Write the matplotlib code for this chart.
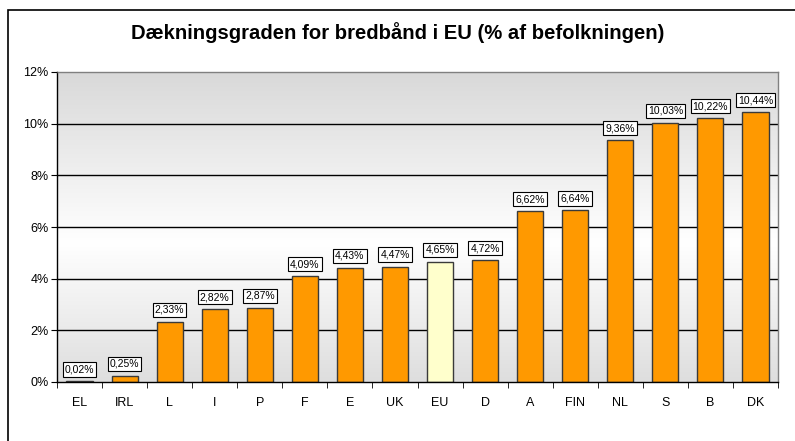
import matplotlib
matplotlib.use("Agg")
import matplotlib.pyplot as plt
import numpy as np
from matplotlib.patches import Rectangle

categories = ["EL", "IRL", "L", "I", "P", "F", "E", "UK", "EU", "D", "A", "FIN", "NL", "S", "B", "DK"]
values = [0.02, 0.25, 2.33, 2.82, 2.87, 4.09, 4.43, 4.47, 4.65, 4.72, 6.62, 6.64, 9.36, 10.03, 10.22, 10.44]
highlight = "EU"
yticks = [0, 2, 4, 6, 8, 10, 12]
title = "Dækningsgraden for bredbånd i EU (% af befolkningen)"

plt.rcParams['font.family'] = ['Liberation Sans', 'DejaVu Sans']

W, H = 795, 441
fig = plt.figure(figsize=(W / 100, H / 100), dpi=100)
fig.patch.set_facecolor("white")

# outer chart border (extends beyond image on right/bottom)
fig.patches.append(Rectangle((8 / W, -0.1), 1.2, 1 - 10 / H + 0.1, transform=fig.transFigure,
                             fill=False, edgecolor="black", linewidth=1.2))

left, right, top, bottom = 57, 778, 72, 382
ax = fig.add_axes([left / W, 1 - bottom / H, (right - left) / W, (bottom - top) / H])

n = len(categories)
x = np.arange(n)

# gradient background: gray top, white middle, gray bottom
grad_y = np.linspace(0, 1, 256)
vals = np.interp(grad_y, [0, 0.45, 1.0], [0.87, 1.0, 0.85])
img = np.stack([vals, vals, vals], axis=-1)[:, None, :].repeat(2, axis=1)
ax.imshow(img, extent=[-0.5, n - 0.5, 0, 12], origin="lower", aspect="auto", zorder=0)
ax.set_xlim(-0.5, n - 0.5)
ax.set_ylim(0, 12)

for yv in yticks[1:-1]:
    ax.axhline(yv, color="black", linewidth=1.0, zorder=1)

colors = ["#ffffcc" if c == highlight else "#ff9900" for c in categories]
ax.bar(x, values, width=0.58, color=colors, edgecolor="#3a3a3a", linewidth=1.0, zorder=2)

for xi, v in zip(x, values):
    ax.annotate(f"{v:.2f}%".replace(".", ","), (xi, v), xytext=(0, 5), textcoords="offset points",
                ha="center", va="bottom", fontsize=7.5,
                bbox=dict(boxstyle="square,pad=0.2", facecolor="white", edgecolor="black", linewidth=0.8),
                zorder=3)

ax.set_yticks(yticks)
ax.set_yticklabels([f"{t}%" for t in yticks], fontsize=9)
ax.set_xticks(x)
ax.set_xticklabels(categories, fontsize=9)
ax.tick_params(axis="x", length=0, pad=11)
ax.set_xticks(np.arange(-0.5, n, 1), minor=True)
ax.tick_params(axis="x", which="minor", length=4, direction="out", color="black")
ax.tick_params(axis="y", length=4, direction="out", color="black", pad=2)

for s in ["left", "bottom"]:
    ax.spines[s].set_color("black")
    ax.spines[s].set_linewidth(1.0)
for s in ["top", "right"]:
    ax.spines[s].set_color("#808080")
    ax.spines[s].set_linewidth(1.0)
ax.set_axisbelow(False)

fig.text(0.5, 1 - 33 / H, title, ha="center", va="center", fontsize=14.6, fontweight="bold")

fig.savefig("out.png", dpi=100)
